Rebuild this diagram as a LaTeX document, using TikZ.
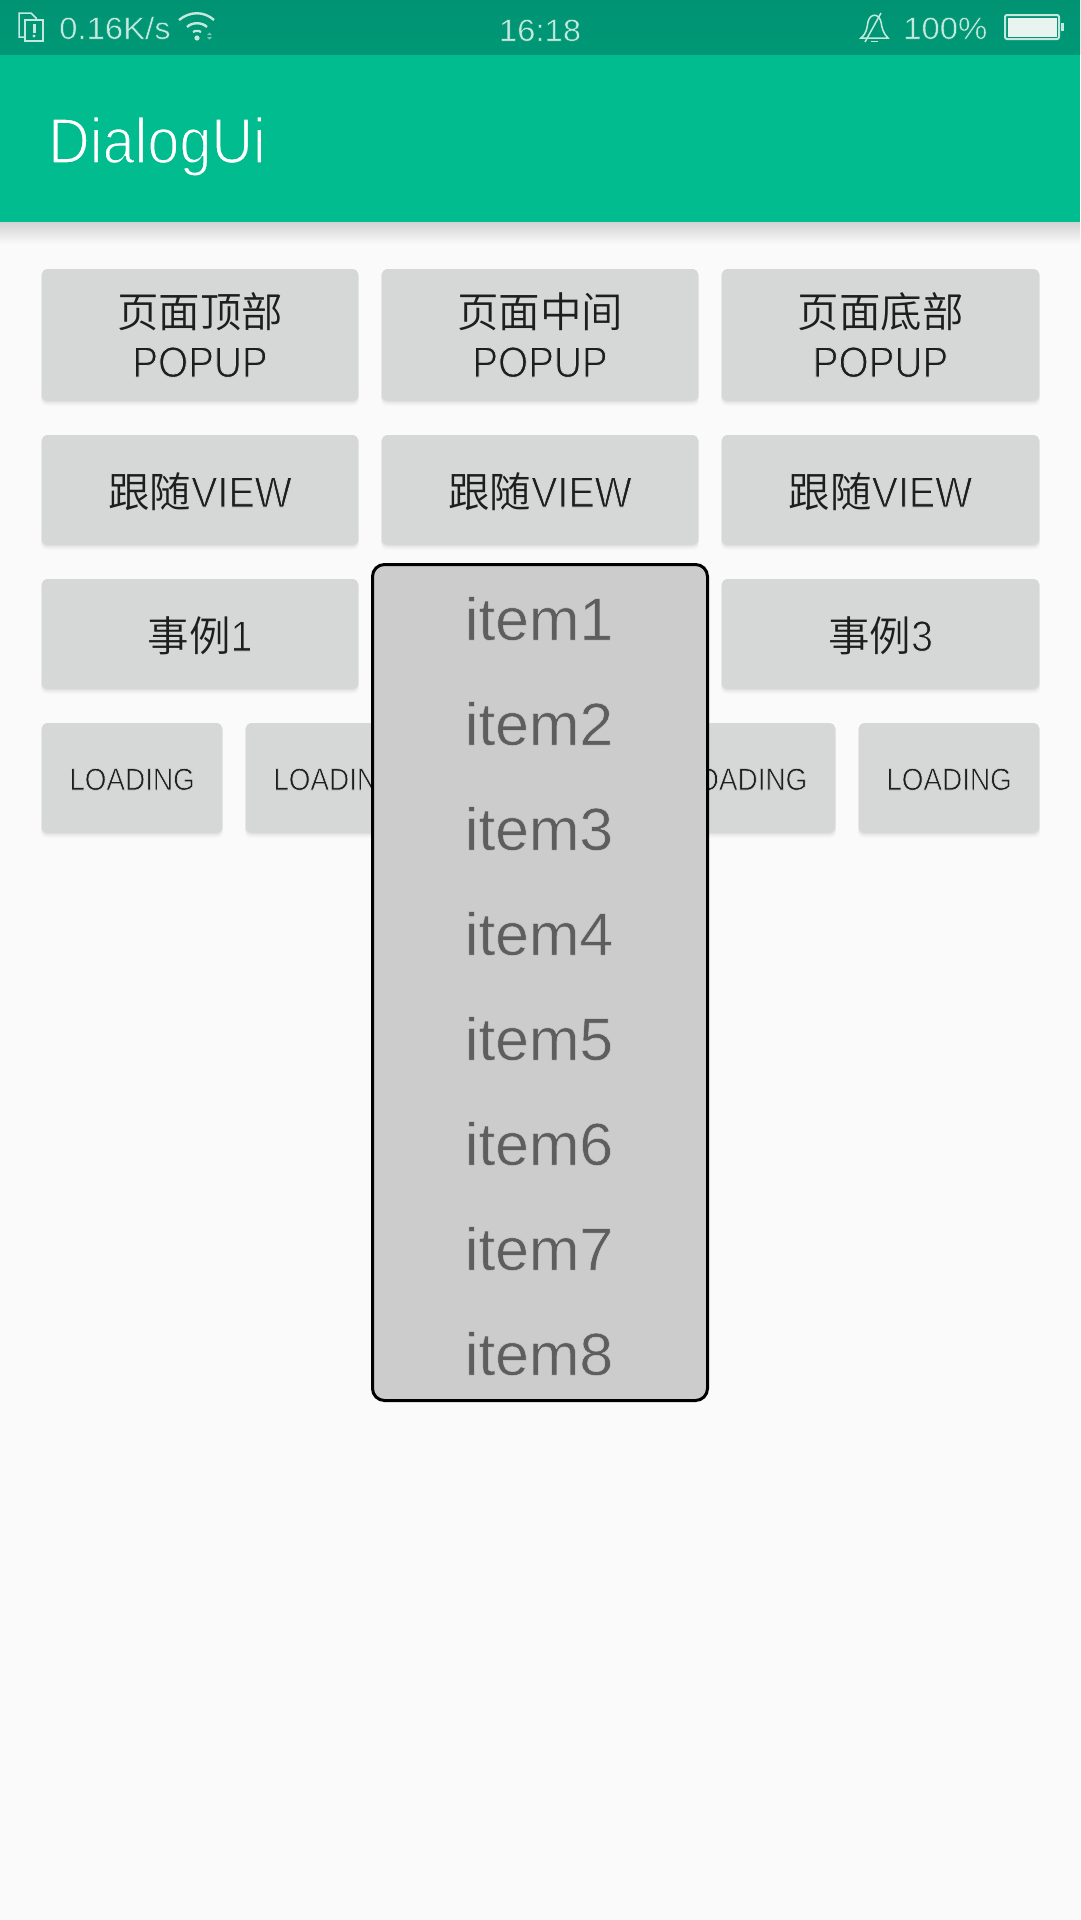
\documentclass[tikz,border=0pt]{standalone}
\usepackage{fontspec}
\usetikzlibrary{shadings}
\newfontfamily\cjkf{Noto Sans CJK SC DemiLight}
\newfontfamily\latb[FakeStretch=0.9]{Liberation Sans}
\newfontfamily\latv[FakeStretch=0.915]{Liberation Sans}
\newfontfamily\latt[FakeStretch=0.9]{Liberation Sans}
\newfontfamily\lati[FakeStretch=1.01]{Liberation Sans}
\newfontfamily\lats[FakeStretch=1.06]{Liberation Sans}
\definecolor{bg}{HTML}{FAFAFA}
\definecolor{bar}{HTML}{00BC8F}
\definecolor{sbar}{HTML}{009876}
\definecolor{sbartop}{HTML}{009373}
\definecolor{btn}{HTML}{D6D7D7}
\definecolor{btxt}{HTML}{1E1E1E}
\definecolor{pop}{HTML}{CCCCCC}
\definecolor{itxt}{HTML}{5E5E5E}
\definecolor{stxt}{HTML}{C6E9DF}
\definecolor{batt}{HTML}{E8F4F0}
% thin the glyphs by stroking them in the colour of what lies behind
\newcommand{\thinT}[3]{\special{pdf:code 2 Tr #1 w #2 RG}#3\special{pdf:code 0 Tr}}
\tikzset{
 x=1pt,y=-1pt,
 btnbox/.style={fill=btn,rounded corners=5pt},
 lbl/.style={anchor=base,inner sep=0pt,text=btxt},
 itemlbl/.style={anchor=base,inner sep=0pt,text=itxt,font=\lati\fontsize{60}{60}\selectfont},
 stat/.style={anchor=base west,inner sep=0pt,text=stxt,font=\lats\fontsize{31}{33}\selectfont},
 icon/.style={draw=stxt,line width=2pt,fill=none}
}
\newcommand{\btnshape}[4]{%
 \foreach \d/\o in {6/0.012,5/0.016,4/0.02,3/0.024,2/0.028,1/0.032}{
  \fill[black,opacity=\o,rounded corners=6pt] (#1-\d*0.2,#2+1) rectangle (#3+\d*0.2,#4+\d);}
 \fill[btnbox] (#1,#2) rectangle (#3,#4);}
\newcommand{\bc}[1]{{\cjkf\fontsize{41.5}{41.5}\selectfont #1}}
\newcommand{\bl}[1]{\thinT{0.8}{0.839 0.843 0.843}{\latb\fontsize{43}{43}\selectfont #1}}
\newcommand{\bv}[1]{\thinT{0.8}{0.839 0.843 0.843}{\latv\fontsize{43}{43}\selectfont #1}}
\newcommand{\st}[1]{\thinT{0.5}{0 0.596 0.463}{#1}}
\begin{document}
\begin{tikzpicture}
\useasboundingbox (0,0) rectangle (1080,1920);
\fill[bg] (0,0) rectangle (1080,1920);
% app bar
\shade[top color=black!16!bg,bottom color=bg] (0,222) rectangle (1080,244);
\fill[bar] (0,54) rectangle (1080,222);
\shade[top color=sbartop,bottom color=sbar] (0,0) rectangle (1080,54);
\node[anchor=base west,inner sep=0pt,text=white,font=\latt\fontsize{64}{64}\selectfont] (title) at (48,163) {\thinT{1.5}{0 0.737 0.561}{DialogUi}};
% status
\node[stat] (speed) at (59,39) {\st{0.16K/s}};
\node[stat,anchor=base] (clock) at (540,41) {\st{16:18}};
\node[stat] (pct) at (903,39) {\st{100\%}};
% sim icon
\draw[icon,line width=1.5pt] (25,37) -- (19,37) -- (19,13) -- (31,13) -- (36,18) -- (36,20);
\draw[icon,line width=1.5pt] (25,20) rectangle (43,41);
\fill[stxt] (32.5,24) rectangle (35.5,33);
\fill[stxt] (34,36) circle (1.7);
% wifi icon
\draw[icon,line width=2.4pt] (179,20) .. controls (190,11) and (204,11) .. (214,20);
\draw[icon,line width=2.4pt] (187,27) .. controls (192,22) and (202,22) .. (207,27);
\draw[icon,line width=2.2pt] (193,32) .. controls (195,30.5) and (199,30.5) .. (201,32);
\fill[stxt] (197,38) circle (2.6);
\fill[stxt!60!sbar] (207,35) -- (212,35) -- (209.5,32.5) -- cycle (207,37) -- (212,37) -- (209.5,39.5) -- cycle;
% bell icon
\draw[icon,line width=1.5pt] (861,38) .. controls (867,33) and (867,27) .. (868,22) .. controls (870,13) and (879,13) .. (881,22) .. controls (882,28) and (883,33) .. (888,38) -- cycle;
\draw[icon,line width=1.5pt] (865,42) -- (881,13);
\fill[stxt] (871,40.5) rectangle (878,42);
% battery
\draw[icon,line width=2pt,rounded corners=2pt] (1005,15) rectangle (1059,39);
\fill[batt] (1007.5,17.5) rectangle (1056.5,36.5);
\fill[stxt] (1061,23) rectangle (1064,31);
% row 1
\btnshape{42}{269}{358}{400}
\btnshape{382}{269}{698}{400}
\btnshape{722}{269}{1039}{400}
\foreach \c/\t in {200/页面顶部,540/页面中间,880.5/页面底部}{
 \node[lbl] at (\c,327) {\bc{\t}};
 \node[lbl] at (\c,377) {\bl{POPUP}};}
% row 2
\btnshape{42}{435}{358}{544}
\btnshape{382}{435}{698}{544}
\btnshape{722}{435}{1039}{544}
\foreach \c in {200,540,880.5}{
 \node[lbl] at (\c,507) {\bc{跟随}\bv{VIEW}};}
% row 3
\btnshape{42}{579}{358}{688}
\btnshape{722}{579}{1039}{688}
\node[lbl] (c1) at (200,651) {\bc{事例}\bv{1}};
\node[lbl] (c3) at (880.5,651) {\bc{事例}\bv{3}};
% row 4
\btnshape{42}{723}{222}{832}
\btnshape{246}{723}{426}{832}
\btnshape{654}{723}{835}{832}
\btnshape{859}{723}{1039}{832}
\foreach \c in {132,336,744.5,949}{
 \node[lbl,font=\latb\fontsize{31}{31}\selectfont] at (\c,790) {\thinT{0.6}{0.839 0.843 0.843}{LOADING}};}
% popup
\draw[black,line width=3pt,fill=pop,rounded corners=12pt] (372.5,564.5) rectangle (707.5,1400.5);
\foreach \i [count=\n from 0] in {1,...,8}{
 \node[itemlbl] (item\i) at (539,640+\n*105) {\thinT{0.5}{0.8 0.8 0.8}{item\i}};}
\end{tikzpicture}
\end{document}
